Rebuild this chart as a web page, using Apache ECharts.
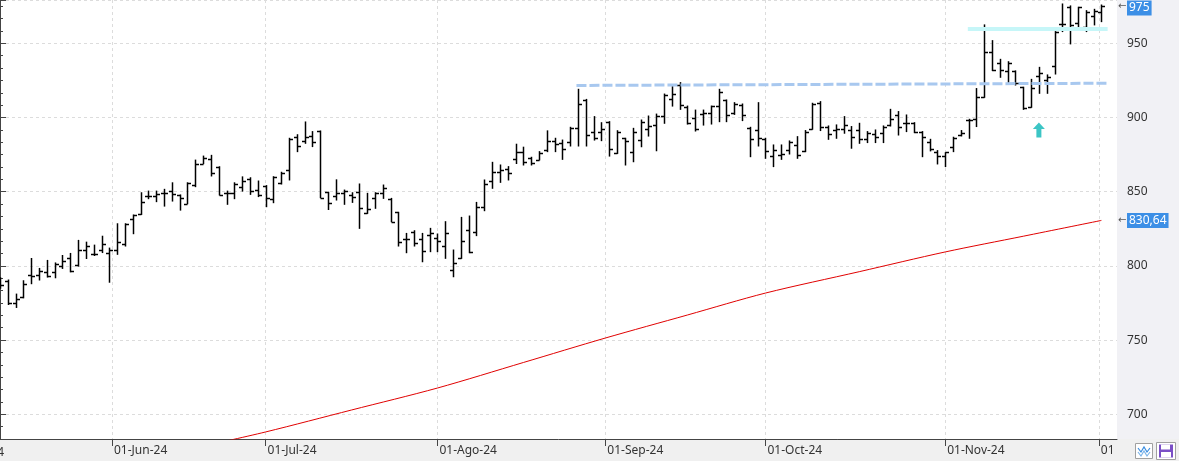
<!DOCTYPE html>
<html>
<head>
<meta charset="utf-8">
<script src="https://cdn.jsdelivr.net/npm/echarts@6/dist/echarts.min.js"></script>
<style>
  html, body { margin: 0; padding: 0; background: #fff; }
  #chart { width: 1179px; height: 461px; }
</style>
</head>
<body>
<div id="chart"></div>
<script>
// sesiones de 2024 (dias de cotizacion por mes)
const mayDays = [10, 13, 14, 15, 16, 17, 20, 21, 22, 23, 24, 28, 29, 30, 31]
const junDays = [3, 4, 5, 6, 7, 10, 11, 12, 13, 14, 17, 18, 20, 21, 24, 25, 26, 27, 28]
const julDays = [1, 2, 3, 5, 8, 9, 10, 11, 12, 15, 16, 17, 18, 19, 22, 23, 24, 25, 26, 29, 30, 31]
const agoDays = [1, 2, 5, 6, 7, 8, 9, 12, 13, 14, 15, 16, 19, 20, 21, 22, 23, 26, 27, 28, 29, 30]
const sepDays = [3, 4, 5, 6, 9, 10, 11, 12, 13, 16, 17, 18, 19, 20, 23, 24, 25, 26, 27, 30]
const octDays = [1, 2, 3, 4, 7, 8, 9, 10, 11, 14, 15, 16, 17, 18, 21, 22, 23, 24, 25, 28, 29, 30, 31]
const novDays = [1, 4, 5, 6, 7, 8, 11, 12, 13, 14, 15, 18, 19, 20, 21, 22, 25, 26, 27, 29]
const dicDays = [2]
const monthNames = ['Ene', 'Feb', 'Mar', 'Abr', 'May', 'Jun', 'Jul', 'Ago', 'Sep', 'Oct', 'Nov', 'Dic']

// OHLC
const opens = [790, 790, 775, 779, 794, 793.6, 796, 796, 799.7, 805, 800.6, 810.5, 808, 810.5, 809,
  810.5, 815, 831.4, 835, 847, 847, 849, 850.4, 847.8, 842, 854.5, 869, 871.8, 866.8, 849.3, 849.3, 853, 858.3, 851.2,
  854.1, 844.9, 855.6, 864.6, 887.1, 884.4, 887.5, 890.9, 849.6, 847, 849.3, 847.8, 849.6, 835.8, 845.5, 848.9, 844.8, 836.1, 817.9, 823, 817.9, 820.8,
  818.6, 813.4, 797.2, 805.1, 824.2, 822.6, 839.5, 857.4, 863.5, 865.1, 872, 877, 872.5, 871.4, 878, 884, 883, 883.7, 892.7, 911.8, 890.4, 890.4,
  896.7, 875.8, 886, 877, 884.8, 892, 894.9, 901, 912.5, 921.9, 907.3, 899.4, 902.1, 902.8, 907.7, 911.8, 902.8, 908.4, 892.7, 891.6,
  885.3, 874.1, 874.8, 878.1, 881.5, 877.7, 892.1, 910, 893.9, 891.6, 892.1, 891.6, 891.6, 885.3, 888.9, 889.4, 895, 901.7, 896.1, 896.5, 890.5, 883.7, 877,
  874.1, 879.9, 888, 898.3, 898.8, 913.6, 943.9, 936.5, 931.6, 931.4, 920.4, 907.3, 928, 925.3, 934.7, 963, 974.3, 963.5, 961.2, 968.4,
  971.3]
const highs = [792, 790.5, 781, 790, 805, 798.3, 803.7, 802, 807, 808.4, 817.2, 816, 814, 820, 812,
  828.4, 828.4, 834.3, 849.3, 850.4, 850.4, 851.6, 856, 847.8, 856, 871.3, 874, 874.5, 866.8, 850.4, 856, 860, 859.4, 857.2,
  854.1, 860.1, 863.1, 886, 888.4, 897, 890.5, 890.9, 849.6, 858, 851.1, 849.3, 855.2, 848.9, 849.3, 854.5, 845.5, 836.1, 821.9, 823.7, 821.9, 825.3,
  821.5, 829.8, 810.7, 832.7, 833.6, 842.8, 857.9, 869.8, 868, 866.9, 882, 880, 873.2, 877, 891, 886, 884.8, 893.4, 919, 912.2, 900.6, 896.5,
  897.2, 891.1, 886, 892.7, 898.3, 901, 902.3, 915.8, 920.8, 923.5, 907.7, 905, 905, 907.7, 919, 911.8, 910, 909.1, 893.4, 910,
  886, 881.5, 881.5, 884.2, 887.1, 891.2, 909.6, 910.7, 894.3, 895, 900.6, 893.9, 896.1, 890.5, 891.6, 894.3, 905.5, 904, 901.7, 896.5, 890.5, 885.3, 877.7,
  876.3, 886.7, 891.2, 898.8, 919.5, 962.4, 951.8, 939.2, 937.6, 931.4, 920.4, 925.7, 933.8, 928.7, 957.9, 976.5, 975.2, 974.3, 972, 972.9,
  975.8]
const lows = [785, 774, 772, 778.5, 788, 790.5, 792.5, 792, 798.3, 796, 799.9, 805, 807, 809, 789,
  807.8, 813.4, 821.7, 834.7, 845.3, 843.3, 840.3, 843.7, 837.6, 841.9, 853.4, 868.9, 860.6, 847.8, 841.5, 845.3, 850.4, 848.2, 846.7,
  839.9, 842.6, 855.2, 857.9, 877, 882.6, 880.4, 846, 838, 844.4, 841.5, 842.8, 825.3, 835.4, 838.8, 845.5, 829.8, 813.4, 808.9, 813.4, 802.8, 809.6,
  809.6, 805.1, 792.7, 805.1, 808.9, 820.4, 837.2, 852.3, 856.3, 857.9, 869, 868, 868, 871.4, 877, 877, 871.8, 880.8, 880.8, 880.8, 884.8, 884.4,
  874, 875.8, 868, 870.2, 880.3, 887.5, 877.6, 896.1, 907.7, 905.5, 895.6, 890.9, 894.9, 895.6, 897.2, 897.2, 902.1, 897.9, 873.6, 880.8,
  872.5, 866.9, 871.8, 875.4, 872.5, 877, 892.1, 891.2, 885.3, 886, 889.4, 879.3, 882.6, 883.1, 883.1, 883.1, 894.3, 888.2, 890.5, 889.8, 873.6, 877.5, 868.7,
  866.9, 877, 887.6, 886, 893.9, 913.6, 931.6, 927.1, 923.1, 921.9, 905.5, 906.9, 916.3, 916.3, 929.3, 957.9, 949.6, 959.4, 957.9, 962.4,
  964.6]
const closes = [787, 775, 778, 788, 793.5, 796.5, 793, 801.5, 803.3, 796.5, 810.5, 813.4, 807.8, 815, 811,
  816.3, 828, 834, 843.3, 847, 848.7, 849.3, 848.2, 846, 856, 868.4, 872.5, 862.4, 847.8, 849, 855.4, 857.2, 850.5, 847.8,
  845.5, 859.7, 862.8, 885.3, 880.8, 886.6, 883.7, 846, 842.6, 849.3, 850.4, 846.6, 838.8, 838.1, 848.9, 852.2, 829.8, 816.3, 817.9, 815.6, 810, 821.9,
  817, 822.4, 801.7, 816.8, 809.6, 839.5, 855, 863.5, 864.6, 862.4, 877, 870.2, 869.6, 876.3, 884, 882, 878.5, 892.7, 908.9, 888, 886, 892,
  878.5, 890.4, 884, 890.4, 897.2, 894.3, 901, 915.2, 915.8, 908.4, 896.5, 892, 902.8, 907.7, 917, 901.7, 909.1, 901.7, 885.3, 886,
  877.5, 878.1, 875.4, 883.7, 874.5, 890.5, 909.1, 893.4, 888.9, 892.1, 895, 886.7, 885.3, 889.4, 887.1, 893.9, 898.8, 893.9, 896.1, 890.5, 886.7, 878.6, 874.1,
  877, 886, 889.4, 898.3, 914.1, 944.4, 932, 932, 936.5, 923.5, 906.2, 919.7, 929.8, 927.5, 957.9, 963, 962.4, 974.3, 971.3, 972,
  975]

// media movil (indice de sesion, valor)
const maIdx = [26, 34, 45, 56, 67, 77.5, 88, 98, 110, 121, 131, 141]
const maVal = [678.5, 688.1, 702.9, 717.7, 734.9, 751.4, 766.9, 781.7, 796.1, 809.4, 820, 830.64]

// lineas dibujadas
const resistIdx = [73.8, 141.8]
const resistVal = [921.6, 923.1]
const topIdx = [123.9, 141.8]
const topVal = [959.5, 959.5]
const arrowIdx = 133
const arrowVal = 891.5

const FONT = 'Noto Sans'

// fechas
const months = [[4, mayDays], [5, junDays], [6, julDays], [7, agoDays], [8, sepDays], [9, octDays], [10, novDays], [11, dicDays]]
const dates = []
months.forEach(function (m) {
  m[1].forEach(function (d) { dates.push(Date.UTC(2024, m[0], d)) })
})

// posicion del dia 1 de cada mes (entre sesiones si cae en fin de semana)
const monthPos = []
const monthLabel = []
months.slice(1).forEach(function (m) {
  const first = Date.UTC(2024, m[0], 1)
  let i = dates.findIndex(function (t) { return t >= first })
  let pos = i
  if (dates[i] > first) pos = i - 1 + (first - dates[i - 1]) / (dates[i] - dates[i - 1])
  monthPos.push(pos)
  monthLabel.push('01-' + monthNames[m[0]] + '-24')
})

const ohlc = opens.map(function (o, i) { return [i, o, highs[i], lows[i], closes[i]] })
const ma = maIdx.map(function (k, i) { return [k, maVal[i]] })
const lastIdx = closes.length - 1

function priceLabel(v, digits) {
  return v.toFixed(digits).replace('.', ',')
}

const chart = echarts.init(document.getElementById('chart'))

const graphics = [
  // franja inferior y panel derecho
  { id: 'strip', type: 'rect', z: -5, shape: { x: 0, y: 439, width: 1179, height: 22 }, style: { fill: '#f0f0f0' } },
  { id: 'panel', type: 'rect', z: -5, shape: { x: 1117, y: 0, width: 62, height: 439 }, style: { fill: '#f1f1f5' } },
  // tapa el resto de la etiqueta de diciembre
  { id: 'cover', type: 'rect', z: 20, shape: { x: 1112, y: 440, width: 67, height: 21 }, style: { fill: '#f0f0f0' } },
  { id: 'may', type: 'text', z: 20, x: 4, y: 447, style: { text: '01-May-24', align: 'right', fill: '#333', font: '12px "Noto Sans"' } },
  // iconos
  { id: 'ic1', type: 'rect', z: 21, shape: { x: 1135.5, y: 443.5, width: 17, height: 15 }, style: { fill: '#fff', stroke: '#a0a0a0', lineWidth: 1 } },
  { id: 'ic2', type: 'polyline', z: 22, shape: { points: [[1138, 448], [1141, 452], [1144, 447], [1147, 452], [1150, 448]] }, style: { stroke: '#3b8ee0', lineWidth: 1.2, fill: null } },
  { id: 'ic3', type: 'polyline', z: 22, shape: { points: [[1138, 452], [1141, 456], [1144, 451], [1147, 456], [1150, 452]] }, style: { stroke: '#7fb6ea', lineWidth: 1.2, fill: null } },
  { id: 'ic4', type: 'rect', z: 21, shape: { x: 1156.5, y: 442.5, width: 19, height: 17 }, style: { fill: '#fff', stroke: '#a0a0a0', lineWidth: 1 } },
  { id: 'ic5', type: 'rect', z: 22, shape: { x: 1159, y: 444.5, width: 14, height: 13 }, style: { fill: '#7a4fc6' } },
  { id: 'ic6', type: 'rect', z: 23, shape: { x: 1161, y: 444.5, width: 9, height: 5 }, style: { fill: '#ffffff' } },
  { id: 'ic7', type: 'rect', z: 23, shape: { x: 1161, y: 452, width: 10, height: 5.5 }, style: { fill: '#ffffff' } }
]

const option = {
  animation: false,
  backgroundColor: '#ffffff',
  grid: { left: 0, right: 62, top: 0, bottom: 22 },
  xAxis: {
    type: 'value',
    min: 0,
    max: 143,
    axisLine: { lineStyle: { color: '#444', width: 1 } },
    axisTick: { customValues: monthPos, length: 7, lineStyle: { color: '#444' } },
    axisLabel: {
      customValues: monthPos,
      align: 'left',
      margin: 6,
      padding: [0, 0, 0, 2],
      color: '#333',
      fontSize: 12,
      fontFamily: FONT,
      formatter: function (v) {
        const i = monthPos.findIndex(function (p) { return Math.abs(p - v) < 1e-6 })
        return i >= 0 ? monthLabel[i] : ''
      }
    },
    splitLine: { show: true, lineStyle: { color: '#dcdcdc', type: [3, 3] } }
  },
  yAxis: {
    type: 'value',
    position: 'right',
    min: 683.36,
    max: 979.18,
    splitNumber: 5,
    axisLine: { show: true, lineStyle: { color: '#444' } },
    axisTick: { show: true, length: 6, lineStyle: { color: '#444' } },
    minorTick: { show: true, splitNumber: 6, length: 3, lineStyle: { color: '#444' } },
    axisLabel: { color: '#333', fontSize: 12, fontFamily: FONT, margin: 10, showMinLabel: false, showMaxLabel: false },
    splitLine: { show: true, lineStyle: { color: '#dcdcdc', type: [3, 3] } }
  },
  graphic: graphics,
  series: [
    {
      type: 'custom',
      name: 'OHLC',
      data: ohlc,
      clip: true,
      z: 4,
      encode: { x: 0, y: [1, 2, 3, 4] },
      renderItem: function (params, api) {
        const k = api.value(0)
        const pO = api.coord([k, api.value(1)])
        const pH = api.coord([k, api.value(2)])
        const pL = api.coord([k, api.value(3)])
        const pC = api.coord([k, api.value(4)])
        const x = Math.round(pH[0]) + 0.5
        const yO = Math.round(pO[1]) + 0.5
        const yC = Math.round(pC[1]) + 0.5
        const st = { stroke: '#000', lineWidth: 1.5 }
        return {
          type: 'group',
          children: [
            { type: 'line', shape: { x1: x, y1: pH[1] - 0.5, x2: x, y2: pL[1] + 0.5 }, style: st },
            { type: 'line', shape: { x1: x - 3.5, y1: yO, x2: x, y2: yO }, style: st },
            { type: 'line', shape: { x1: x, y1: yC, x2: x + 3.5, y2: yC }, style: st }
          ]
        }
      }
    },
    {
      type: 'line',
      name: 'MA',
      data: ma,
      showSymbol: false,
      symbol: 'none',
      smooth: 0.3,
      clip: true,
      z: 3,
      lineStyle: { color: '#e00000', width: 1 },
      markLine: {
        silent: true,
        symbol: 'none',
        animation: false,
        data: [
          [
            { coord: [resistIdx[0], resistVal[0]] },
            { coord: [resistIdx[1], resistVal[1]] }
          ],
          [
            { coord: [topIdx[0], topVal[0]] },
            { coord: [topIdx[1], topVal[1]], lineStyle: { color: '#c6f6f8', width: 4, type: 'solid' } }
          ]
        ],
        lineStyle: { color: '#a8c8ef', width: 3, type: [10, 3] },
        label: { show: false }
      },
      markPoint: {
        silent: true,
        symbol: 'path://M6,0 L12,6 L8.5,6 L8.5,14 L3.5,14 L3.5,6 L0,6 Z',
        symbolSize: [12, 15],
        itemStyle: { color: '#3cc5c5' },
        label: { show: false },
        data: [{ coord: [arrowIdx, arrowVal] }]
      }
    }
  ]
}

chart.setOption(option)

// etiquetas azules sobre el eje derecho, situadas con la escala del eje
function axisTag(id, value, text) {
  const y = chart.convertToPixel({ yAxisIndex: 0 }, value)
  return [
    { id: id + 'a', type: 'text', z: 30, x: 1118, y: y, style: { text: '←', fill: '#555', font: '10px "DejaVu Sans"', verticalAlign: 'middle' } },
    {
      id: id + 'b', type: 'text', z: 30, x: 1127, y: Math.max(y, 8),
      style: { text: text, fill: '#fff', font: '12px "Noto Sans"', verticalAlign: 'middle', backgroundColor: '#3c8fe6', padding: [2, 2, 1, 2] }
    }
  ]
}

chart.setOption({
  graphic: graphics
    .concat(axisTag('tagPrice', closes[lastIdx], priceLabel(closes[lastIdx], 0)))
    .concat(axisTag('tagMa', maVal[maVal.length - 1], priceLabel(maVal[maVal.length - 1], 2)))
})
</script>
</body>
</html>
